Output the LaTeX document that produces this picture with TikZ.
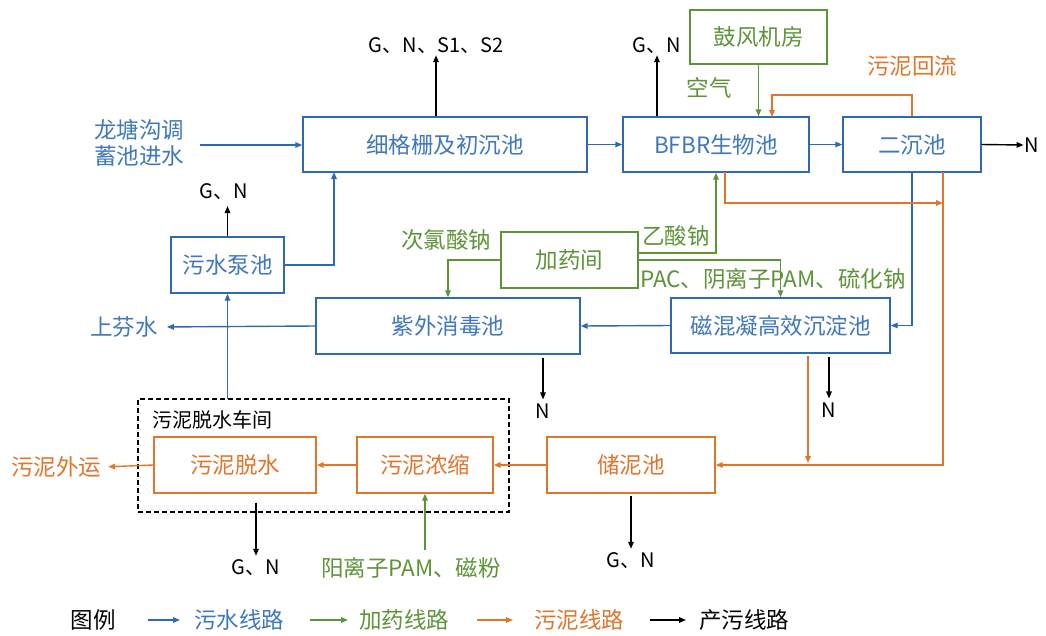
\documentclass[tikz,border=0pt]{standalone}
\usepackage{fontspec}
\setmainfont{Noto Sans CJK SC}
\usetikzlibrary{arrows.meta,calc}
\definecolor{wb}{HTML}{3069B0}
\definecolor{wbt}{HTML}{3F78BD}
\definecolor{ag}{HTML}{5E9438}
\definecolor{so}{HTML}{E0752C}
\newcommand{\bigf}{\fontsize{22.5}{26}\selectfont}
\newcommand{\midf}{\fontsize{20}{24}\selectfont}
\begin{document}
\begin{tikzpicture}[x=1pt,y=-1pt,
  wbox/.style={draw=wb,line width=1.4pt,text=wbt,font=\bigf,inner sep=0pt},
  abox/.style={draw=ag,line width=1.4pt,text=ag,font=\bigf,inner sep=0pt},
  sbox/.style={draw=so,line width=1.4pt,text=so,font=\bigf,inner sep=0pt},
  tip/.style={-{Triangle[length=7pt,width=5.5pt]}},
  wline/.style={draw=wb,line width=1.4pt,tip},
  aline/.style={draw=ag,line width=1.4pt,tip},
  sline/.style={draw=so,line width=1.4pt,tip},
  pline/.style={draw=black,line width=1.4pt,tip},
  wlab/.style={text=wbt,font=\bigf,inner sep=1pt},
  alab/.style={text=ag,font=\bigf,inner sep=1pt},
  slab/.style={text=so,font=\bigf,inner sep=1pt},
  plab/.style={text=black,font=\midf,inner sep=1pt}]
\useasboundingbox (0,0) rectangle (1046,635);
\fill[white] (0,0) rectangle (1046,635);

% boxes
\node[wbox,minimum width=284pt,minimum height=55pt] (f) at (445,144.5) {细格栅及初沉池};
\node[wbox,minimum width=186pt,minimum height=55pt] (b) at (716,144.5) {BFBR生物池};
\node[wbox,minimum width=138pt,minimum height=55pt] (e) at (912,144.5) {二沉池};
\node[abox,minimum width=137pt,minimum height=54pt] (g) at (758.5,37) {鼓风机房};
\node[wbox,minimum width=113pt,minimum height=56pt] (p) at (227.5,265) {污水泵池};
\node[abox,minimum width=137pt,minimum height=56pt] (d) at (569.5,260) {加药间};
\node[wbox,minimum width=264pt,minimum height=56pt] (u) at (448,326) {紫外消毒池};
\node[wbox,minimum width=219pt,minimum height=55pt] (m) at (780.5,325.5) {磁混凝高效沉淀池};
\node[sbox,minimum width=162pt,minimum height=56pt] (t) at (235,465) {污泥脱水};
\node[sbox,minimum width=136pt,minimum height=56pt] (c) at (425,465) {污泥浓缩};
\node[sbox,minimum width=168pt,minimum height=56pt] (s) at (631,465) {储泥池};
\node[draw=black,dash pattern=on 5pt off 3pt,line width=1.4pt,minimum width=371pt,minimum height=113pt,inner sep=0pt] (dash) at (323.5,455.5) {};
\node[font=\midf,inner sep=0pt,anchor=west] (dlab) at (152,420) {污泥脱水车间};

% labels
\node[wlab,align=left] (in) at (139,143) {龙塘沟调\\蓄池进水};
\coordinate (inS) at (200,145);
\node[plab] (n1) at (1032,145) {N};
\node[plab] (gn1) at (436,46) {G、N、S1、S2};
\node[plab] (gn2) at (657,46) {G、N};
\node[alab] (kq) at (709,88) {空气};
\node[slab] (hl) at (912,66) {污泥回流};
\node[plab] (gn3) at (224,192) {G、N};
\node[alab] (cl) at (446,240) {次氯酸钠};
\node[alab] (ys) at (676,236) {乙酸钠};
\node[alab] (pac) at (773,279) {PAC、阴离子PAM、硫化钠};
\node[wlab] (sf) at (124,327) {上芬水};
\node[plab] (n2) at (543,411) {N};
\node[plab] (n3) at (829,410) {N};
\node[slab] (wy) at (56,467) {污泥外运};
\node[plab] (gn4) at (256,568) {G、N};
\node[alab] (yl) at (411,568) {阳离子PAM、磁粉};
\node[plab] (gn5) at (631,561) {G、N};

% coordinates
\coordinate (rtop) at (912,95);
\coordinate (rdn) at (772,117);
\coordinate (bo) at (725,172);
\coordinate (boc) at (725,203);
\coordinate (bor) at (943,203);
\coordinate (ev) at (943,172);
\coordinate (fin) at (334,172);
\coordinate (ma) at (808,353);
\coordinate (mb) at (808,463);
\coordinate (pu) at (227.5,399);
\coordinate (p3) at (227.5,237);
\coordinate (p3t) at (227.5,206);

% sewage lines
\draw[wline] (inS) -- (inS -| f.west);
\draw[wline] (f.east) -- (b.west);
\draw[wline] (b.east) -- (e.west);
\draw[wline] (e.south) |- (m.east);
\draw[wline] (m.west) -- (u.east);
\draw[wline,shorten >=8pt] (u.west) -- (sf.east);
\draw[wline] (pu) -- (p.south);
\draw[wline] (p.east) -| (fin);

% dosing lines
\draw[aline] (g.south) -- (g.south |- b.north);
\draw[aline] (d.west) -| (u.north);
\draw[aline] ([yshift=7pt]d.east) -| (b.south);
\draw[aline] (d.east) -| (m.north);
\draw[aline,shorten <=6pt] (c.south |- yl.north) -- (c.south);

% sludge lines
\draw[sline] (e.north) -- (rtop) -| (rdn);
\draw[sline] (bo) -- (boc) -- (bor);
\draw[sline] (ev) |- (s.east);
\draw[sline,shorten <=3pt] (ma) -- (mb);
\draw[sline] (s.west) -- (c.east);
\draw[sline] (c.west) -- (t.east);
\draw[sline,shorten >=6pt] (t.west) -- (wy.east);

% pollution lines
\draw[pline] (e.east) -- (n1.west);
\draw[pline] (gn1 |- f.north) -- (gn1.south);
\draw[pline] (gn2 |- b.north) -- (gn2.south);
\draw[pline] (p.north) -- (p3t);
\draw[pline,shorten <=3pt,shorten >=3pt] (n2 |- u.south) -- (n2.north);
\draw[pline,shorten <=3pt,shorten >=3pt] (n3 |- m.south) -- (n3.north);
\draw[pline,shorten <=9pt,shorten >=3pt] (gn4 |- t.south) -- (gn4.north);
\draw[pline,shorten <=2pt,shorten >=3pt] (s.south) -- (gn5.north);

% legend
\node[font=\bigf,inner sep=0pt] (lg) at (93,620) {图例};
\coordinate (l1a) at (148,620); \coordinate (l1b) at (180,620);
\node[wlab,anchor=west] (l1) at (193,620) {污水线路};
\coordinate (l2a) at (310,620); \coordinate (l2b) at (348,620);
\node[alab,anchor=west] (l2) at (358,620) {加药线路};
\coordinate (l3a) at (477,620); \coordinate (l3b) at (513,620);
\node[slab,anchor=west] (l3) at (533,620) {污泥线路};
\coordinate (l4a) at (650,620); \coordinate (l4b) at (686,620);
\node[font=\bigf,inner sep=1pt,anchor=west] (l4) at (698,620) {产污线路};
\draw[wline] (l1a) -- (l1b);
\draw[aline] (l2a) -- (l2b);
\draw[sline] (l3a) -- (l3b);
\draw[pline] (l4a) -- (l4b);
\end{tikzpicture}
\end{document}
